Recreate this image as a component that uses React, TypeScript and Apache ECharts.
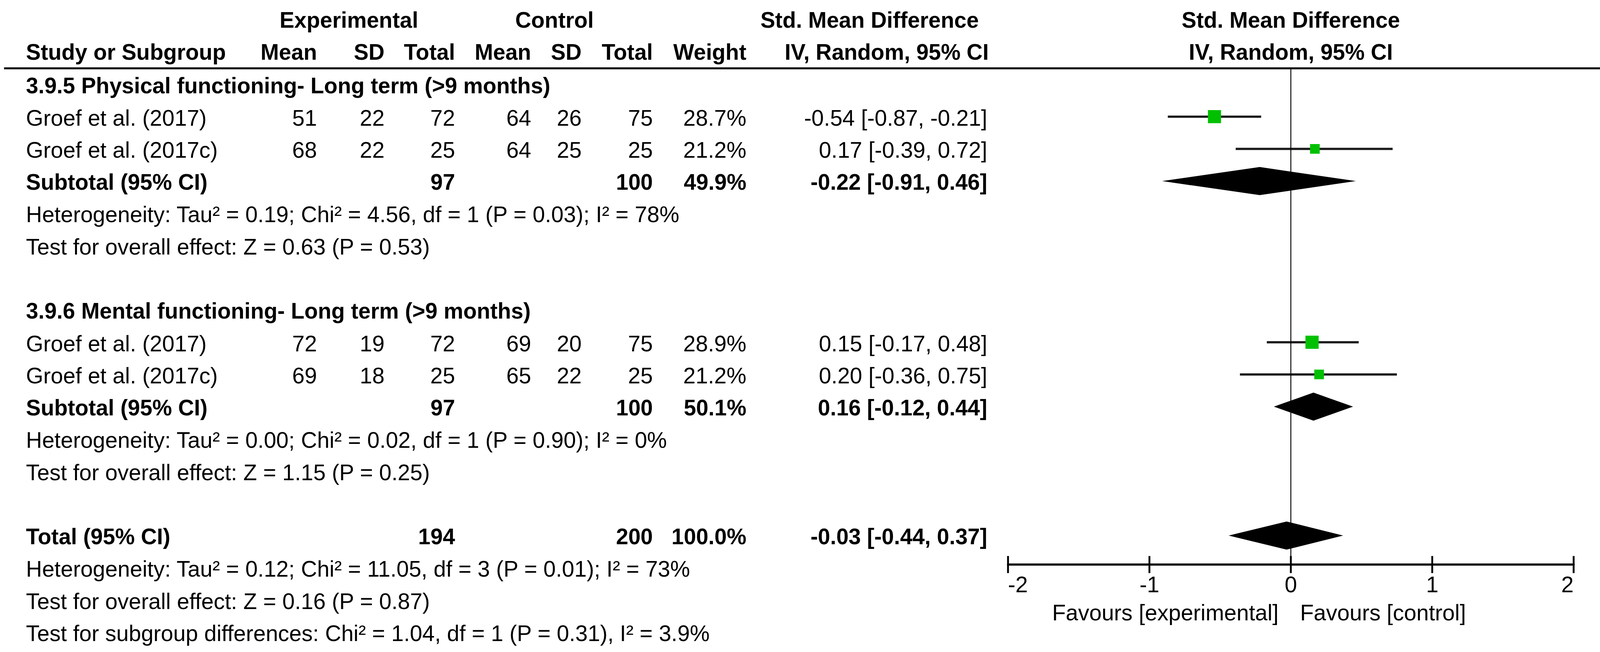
import React, { useEffect, useRef } from "react";
import * as echarts from "echarts";

// ---------- data ----------
const studyNames = ["Groef et al. (2017)", "Groef et al. (2017c)", "Groef et al. (2017)", "Groef et al. (2017c)"];
const studyRows = [1, 2, 8, 9];
const expMean = [51, 68, 72, 69];
const expSD = [22, 22, 19, 18];
const expTotal = [72, 25, 72, 25];
const ctlMean = [64, 64, 69, 65];
const ctlSD = [26, 25, 20, 22];
const ctlTotal = [75, 25, 75, 25];
const weights = [28.7, 21.2, 28.9, 21.2];
const smd = [-0.54, 0.17, 0.15, 0.2];
const ciLow = [-0.87, -0.39, -0.17, -0.36];
const ciHigh = [-0.21, 0.72, 0.48, 0.75];

const subgroupTitles = [
  "3.9.5 Physical functioning- Long term (>9 months)",
  "3.9.6 Mental functioning- Long term (>9 months)",
];
const subgroupTitleRows = [0, 7];
const subtotalRows = [3, 10];
const subExpTotal = [97, 97];
const subCtlTotal = [100, 100];
const subWeight = ["49.9%", "50.1%"];
const subSmd = [-0.22, 0.16];
const subLow = [-0.91, -0.12];
const subHigh = [0.46, 0.44];
const subHetero = [
  "Heterogeneity: Tau\u00b2 = 0.19; Chi\u00b2 = 4.56, df = 1 (P = 0.03); I\u00b2 = 78%",
  "Heterogeneity: Tau\u00b2 = 0.00; Chi\u00b2 = 0.02, df = 1 (P = 0.90); I\u00b2 = 0%",
];
const subEffect = ["Test for overall effect: Z = 0.63 (P = 0.53)", "Test for overall effect: Z = 1.15 (P = 0.25)"];

const totalRow = 14;
const totalExp = 194;
const totalCtl = 200;
const totalWeight = "100.0%";
const totalSmd = -0.03;
const totalLow = -0.44;
const totalHigh = 0.37;
const totalNotes = [
  "Heterogeneity: Tau\u00b2 = 0.12; Chi\u00b2 = 11.05, df = 3 (P = 0.01); I\u00b2 = 73%",
  "Test for overall effect: Z = 0.16 (P = 0.87)",
  "Test for subgroup differences: Chi\u00b2 = 1.04, df = 1 (P = 0.31), I\u00b2 = 3.9%",
];

const colHeaders = ["Mean", "SD", "Total", "Mean", "SD", "Total", "Weight"];
const axisTicks = [-2, -1, 0, 1, 2];

// ---------- layout (in reference pixels, 4311 x 1670) ----------
const W = 4311;
const H = 1670;
const GRID_LEFT = 2716;
const GRID_RIGHT_X = 4240;
const GRID_TOP = 175;
const GRID_BOTTOM_Y = 1446;
const Y_MIN = -0.5;
const Y_MAX = 14.9;
const COL_R = [854, 1036, 1226, 1431, 1567, 1759, 2011];
const NAME_X = 70;
const CI_R = 2660;
const FONT = '"Liberation Sans", Arial, Helvetica, sans-serif';
const FS = 60;
const FSB = 59.5;

const fmt = (v: number) => v.toFixed(2);
const ciText = (e: number, l: number, h: number) => `${fmt(e)} [${fmt(l)}, ${fmt(h)}]`;

export default function App() {
  const ref = useRef<HTMLDivElement>(null);
  useEffect(() => {
    document.body.style.margin = "0";
    document.body.style.overflow = "hidden";
    document.documentElement.style.overflow = "hidden";
    if (!ref.current) return;
    const vw = ref.current.clientWidth || W;
    const vh = ref.current.clientHeight || H;
    const sx = vw / W;
    const sy = vh / H;
    const sf = Math.min(sx, sy);
    const X = (v: number) => v * sx;
    const STEP = (GRID_BOTTOM_Y - GRID_TOP) / (Y_MAX - Y_MIN);
    const Yp = (k: number) => (GRID_TOP + (k - Y_MIN) * STEP) * sy;
    const ry = (k: number) => Yp(k) + 3 * sy;

    const txt = (text: string, x: number, y: number, align: string, bold = false) => ({
      type: "text",
      x: X(x),
      y,
      silent: true,
      style: {
        text,
        font: `${bold ? "bold " : ""}${(bold ? FSB : FS) * sf}px ${FONT}`,
        fill: "#000",
        textAlign: align,
        textVerticalAlign: "middle",
      },
    });

    const g: any[] = [];
    g.push(txt("Experimental", 940, Yp(-2), "center", true));
    g.push(txt("Control", 1494, Yp(-2), "center", true));
    g.push(txt("Std. Mean Difference", 2343, Yp(-2), "center", true));
    g.push(txt("Std. Mean Difference", 3478, Yp(-2), "center", true));
    g.push(txt("Study or Subgroup", NAME_X, Yp(-1), "left", true));
    colHeaders.forEach((h, i) => g.push(txt(h, COL_R[i], Yp(-1), "right", true)));
    g.push(txt("IV, Random, 95% CI", 2664, Yp(-1), "right", true));
    g.push(txt("IV, Random, 95% CI", 3478, Yp(-1), "center", true));
    g.push({
      type: "line",
      silent: true,
      shape: { x1: X(11), y1: GRID_TOP * sy, x2: vw, y2: GRID_TOP * sy },
      style: { stroke: "#000", lineWidth: 5.5 * sf },
    });
    subgroupTitles.forEach((t, i) => {
      g.push(txt(t, NAME_X, ry(subgroupTitleRows[i]), "left", true));
      const sr = subtotalRows[i];
      g.push(txt("Subtotal (95% CI)", NAME_X, ry(sr), "left", true));
      g.push(txt(String(subExpTotal[i]), COL_R[2], ry(sr), "right", true));
      g.push(txt(String(subCtlTotal[i]), COL_R[5], ry(sr), "right", true));
      g.push(txt(subWeight[i], COL_R[6], ry(sr), "right", true));
      g.push(txt(ciText(subSmd[i], subLow[i], subHigh[i]), CI_R, ry(sr), "right", true));
      g.push(txt(subHetero[i], NAME_X, ry(sr + 1), "left"));
      g.push(txt(subEffect[i], NAME_X, ry(sr + 2), "left"));
    });
    studyNames.forEach((n, i) => {
      const r = ry(studyRows[i]);
      g.push(txt(n, NAME_X, r, "left"));
      const vals = [expMean[i], expSD[i], expTotal[i], ctlMean[i], ctlSD[i], ctlTotal[i]];
      vals.forEach((v, j) => g.push(txt(String(v), COL_R[j], r, "right")));
      g.push(txt(`${weights[i].toFixed(1)}%`, COL_R[6], r, "right"));
      g.push(txt(ciText(smd[i], ciLow[i], ciHigh[i]), CI_R, r, "right"));
    });
    g.push(txt("Total (95% CI)", NAME_X, ry(totalRow), "left", true));
    g.push(txt(String(totalExp), COL_R[2], ry(totalRow), "right", true));
    g.push(txt(String(totalCtl), COL_R[5], ry(totalRow), "right", true));
    g.push(txt(totalWeight, COL_R[6], ry(totalRow), "right", true));
    g.push(txt(ciText(totalSmd, totalLow, totalHigh), CI_R, ry(totalRow), "right", true));
    totalNotes.forEach((t, i) => g.push(txt(t, NAME_X, ry(totalRow + 1 + i), "left")));
    g.push(txt("Favours [experimental]", 3445, 1569 * sy, "right"));
    g.push(txt("Favours [control]", 3503, 1569 * sy, "left"));

    const chart = echarts.init(ref.current, undefined, { renderer: "svg" });

    const ciData = studyNames.map((_, i) => [ciLow[i], ciHigh[i], studyRows[i]]);
    const sqData = studyNames.map((_, i) => [smd[i], studyRows[i], weights[i]]);
    const diaData = [
      ...subSmd.map((e, i) => [subLow[i], e, subHigh[i], subtotalRows[i]]),
      [totalLow, totalSmd, totalHigh, totalRow],
    ];

    const option: any = {
      animation: false,
      backgroundColor: "#fff",
      grid: {
        left: X(GRID_LEFT),
        right: vw - X(GRID_RIGHT_X),
        top: GRID_TOP * sy,
        bottom: vh - GRID_BOTTOM_Y * sy,
        containLabel: false,
        outerBoundsMode: "none",
      },
      xAxis: {
        type: "value",
        min: axisTicks[0],
        max: axisTicks[axisTicks.length - 1],
        interval: 1,
        splitLine: { show: false },
        axisLine: { show: true, onZero: false, lineStyle: { color: "#000", width: 6 * sf } },
        axisTick: { show: true, length: 23 * sf, lineStyle: { color: "#000", width: 5 * sf } },
        axisLabel: {
          show: true,
          color: "#000",
          fontSize: FS * sf,
          fontFamily: FONT,
          margin: 24 * sf,
          alignMinLabel: "left",
          alignMaxLabel: "right",
          showMinLabel: true,
          showMaxLabel: true,
        },
      },
      yAxis: { type: "value", inverse: true, min: Y_MIN, max: Y_MAX, show: false },
      graphic: g,
      series: [
        {
          type: "line",
          data: [
            [0, Y_MIN],
            [0, Y_MAX],
          ],
          symbol: "none",
          lineStyle: { color: "#000", width: 2.5 * sf },
          silent: true,
        },
        {
          // inward half of the axis ticks
          type: "custom",
          data: axisTicks.map((t) => [t, Y_MAX]),
          renderItem: (params: any, api: any) => {
            const p = api.coord([api.value(0), api.value(1)]);
            return {
              type: "line",
              shape: { x1: p[0], y1: p[1], x2: p[0], y2: p[1] - 23 * sf },
              style: { stroke: "#000", lineWidth: 5 * sf },
            };
          },
          silent: true,
        },
        {
          type: "custom",
          data: ciData,
          renderItem: (params: any, api: any) => {
            const a = api.coord([api.value(0), api.value(2)]);
            const b = api.coord([api.value(1), api.value(2)]);
            return {
              type: "line",
              shape: { x1: a[0], y1: a[1], x2: b[0], y2: b[1] },
              style: { stroke: "#1a1a1a", lineWidth: 6 * sf },
            };
          },
          silent: true,
        },
        {
          type: "scatter",
          data: sqData,
          symbol: "rect",
          symbolSize: (v: number[]) => v[2] * 1.23 * sf,
          itemStyle: { color: "#00C000", opacity: 1 },
          silent: true,
        },
        {
          type: "custom",
          data: diaData,
          renderItem: (params: any, api: any) => {
            const y = api.value(3);
            const l = api.coord([api.value(0), y]);
            const c = api.coord([api.value(1), y]);
            const r = api.coord([api.value(2), y]);
            const h = 36 * sy;
            return {
              type: "polygon",
              shape: {
                points: [
                  [l[0], l[1]],
                  [c[0], c[1] - h],
                  [r[0], r[1]],
                  [c[0], c[1] + h],
                ],
              },
              style: { fill: "#000" },
            };
          },
          silent: true,
        },
      ],
    };
    chart.setOption(option);
    return () => chart.dispose();
  }, []);
  return <div ref={ref} style={{ width: "100vw", height: "100vh", overflow: "hidden" }} />;
}
